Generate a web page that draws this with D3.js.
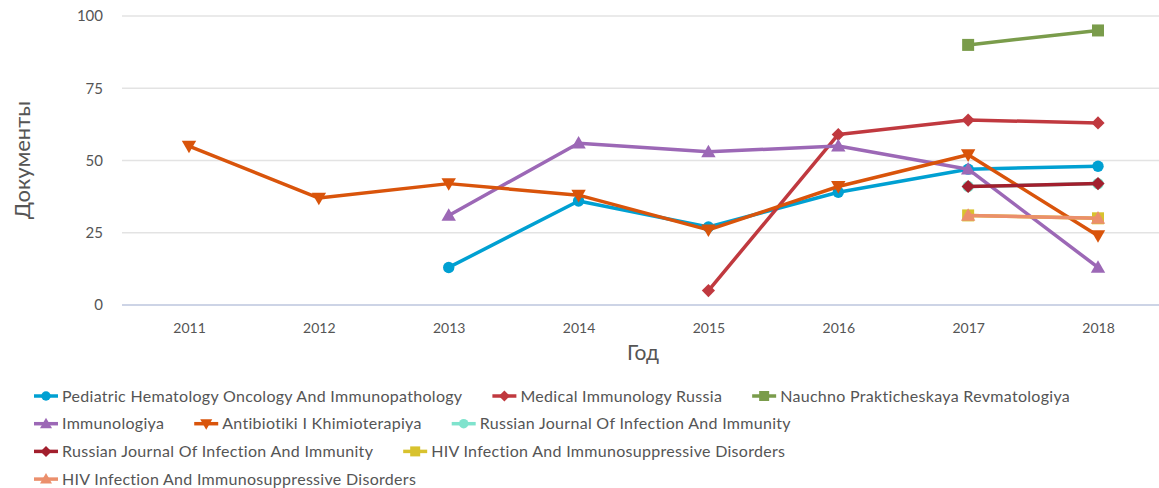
<!DOCTYPE html>
<html>
<head>
<meta charset="utf-8">
<script src="https://cdn.jsdelivr.net/npm/d3@7"></script>
<style>
  body { margin: 0; background: #fff; }
  svg text { font-family: Lato, "Open Sans", sans-serif; }
</style>
</head>
<body>
<div id="chart"></div>
<script>
// data
const years = ['2011', '2012', '2013', '2014', '2015', '2016', '2017', '2018'];
const yTicks = [0, 25, 50, 75, 100];

const seriesNames = [
  'Pediatric Hematology Oncology And Immunopathology',
  'Medical Immunology Russia',
  'Nauchno Prakticheskaya Revmatologiya',
  'Immunologiya',
  'Antibiotiki I Khimioterapiya',
  'Russian Journal Of Infection And Immunity',
  'Russian Journal Of Infection And Immunity',
  'HIV Infection And Immunosuppressive Disorders',
  'HIV Infection And Immunosuppressive Disorders'
];
const seriesColors = ['#00a0d2', '#c0393f', '#7a9c4b', '#9c68b6', '#d9540b', '#7fe3cd', '#a21f2d', '#d8c22e', '#eb8f6c'];
const seriesShapes = ['circle', 'diamond', 'square', 'triUp', 'triDown', 'circle', 'diamond', 'square', 'triUp'];

// null = no data for that year
const pediatric    = [null, null, 13, 36, 27, 39, 47, 48];
const medImmun     = [null, null, null, null, 5, 59, 64, 63];
const nauchno      = [null, null, null, null, null, null, 90, 95];
const immunologiya = [null, null, 31, 56, 53, 55, 47, 13];
const antibiotiki  = [55, 37, 42, 38, 26, 41, 52, 24];
const rusJournalA  = [null, null, null, null, null, null, 41, 42];
const rusJournalB  = [null, null, null, null, null, null, 41, 42];
const hivA         = [null, null, null, null, null, null, 31, 30];
const hivB         = [null, null, null, null, null, null, 31, 30];
const seriesValues = [pediatric, medImmun, nauchno, immunologiya, antibiotiki, rusJournalA, rusJournalB, hivA, hivB];

const W = 1159, H = 488;
const svg = d3.select('#chart').append('svg').attr('width', W).attr('height', H);

const x = d3.scalePoint().domain(years).range([189, 1098]);
const y = d3.scaleLinear().domain([0, 100]).range([305, 16]);
const plotLeft = 122, plotRight = 1159;

// gridlines
svg.append('g').selectAll('line')
  .data(yTicks)
  .enter().append('line')
  .attr('x1', plotLeft).attr('x2', plotRight)
  .attr('y1', d => y(d)).attr('y2', d => y(d))
  .attr('stroke', d => d === 0 ? '#cdd4e6' : '#e3e3e3')
  .attr('stroke-width', d => d === 0 ? 2 : 1.5);

// y tick labels
svg.append('g').selectAll('text')
  .data(yTicks)
  .enter().append('text')
  .attr('x', 103).attr('y', d => y(d)).attr('dy', '0.35em')
  .attr('text-anchor', 'end')
  .attr('font-size', 15).attr('fill', '#555')
  .text(d => d);

// x tick labels
const xAxis = svg.append('g').attr('transform', 'translate(0,' + 305 + ')')
  .call(d3.axisBottom(x).tickSize(0).tickPadding(18));
xAxis.select('.domain').remove();
xAxis.selectAll('text')
  .attr('font-size', 14).attr('fill', '#555')
  .attr('font-family', 'Lato, sans-serif');

// axis titles
svg.append('text')
  .attr('x', 643).attr('y', 360)
  .attr('text-anchor', 'middle')
  .attr('font-size', 21).attr('fill', '#555')
  .text('Год');
svg.append('text')
  .attr('transform', 'translate(30,160) rotate(-90)')
  .attr('text-anchor', 'middle')
  .attr('font-size', 22).attr('fill', '#555')
  .text('Документы');

function marker(sel, shape, color, s) {
  if (shape === 'circle') {
    sel.append('circle').attr('r', s * 0.95).attr('fill', color);
  } else if (shape === 'square') {
    sel.append('rect').attr('x', -s).attr('y', -s).attr('width', 2 * s).attr('height', 2 * s).attr('fill', color);
  } else if (shape === 'diamond') {
    sel.append('path').attr('d', `M0,${-s * 1.1}L${s * 1.1},0L0,${s * 1.1}L${-s * 1.1},0Z`).attr('fill', color);
  } else if (shape === 'triUp') {
    sel.append('path').attr('d', `M0,${-s * 1.2}L${s * 1.2},${s * 0.9}L${-s * 1.2},${s * 0.9}Z`).attr('fill', color);
  } else if (shape === 'triDown') {
    sel.append('path').attr('d', `M0,${s * 1.2}L${s * 1.2},${-s * 0.9}L${-s * 1.2},${-s * 0.9}Z`).attr('fill', color);
  }
}

const line = d3.line()
  .defined(d => d.v !== null)
  .x(d => x(d.year))
  .y(d => y(d.v));

// draw series (teal russian journal first so the dark red one covers it)
const drawOrder = [5, 0, 1, 2, 3, 4, 6, 7, 8];
drawOrder.forEach(i => {
  const pts = years.map((yr, j) => ({ year: yr, v: seriesValues[i][j] }));
  const g = svg.append('g');
  g.append('path')
    .datum(pts)
    .attr('d', line)
    .attr('fill', 'none')
    .attr('stroke', seriesColors[i])
    .attr('stroke-width', 3.5)
    .attr('stroke-linejoin', 'round');
  g.selectAll('g.pt')
    .data(pts.filter(d => d.v !== null))
    .enter().append('g')
    .attr('class', 'pt')
    .attr('transform', d => `translate(${x(d.year)},${y(d.v)})`)
    .each(function () { marker(d3.select(this), seriesShapes[i], seriesColors[i], 6); });
});

// legend, flowing with wrap
const legend = svg.append('g');
let lx = 34, ly = 396;
const rowH = 27.7, maxX = 1120;
seriesNames.forEach((name, i) => {
  const item = legend.append('g');
  const t = item.append('text')
    .attr('x', 28).attr('dy', '0.35em')
    .attr('font-size', 16).attr('fill', '#555')
    .attr('letter-spacing', 0.3)
    .attr('font-family', '"Open Sans", sans-serif')
    .text(name);
  const w = 28 + t.node().getComputedTextLength();
  if (lx + w > maxX) { lx = 34; ly += rowH; }
  item.attr('transform', `translate(${lx},${ly})`);
  item.append('line').attr('x1', 0).attr('x2', 24).attr('y1', 0).attr('y2', 0)
    .attr('stroke', seriesColors[i]).attr('stroke-width', 3.5);
  const m = item.append('g').attr('transform', 'translate(12,0)');
  marker(m, seriesShapes[i], seriesColors[i], 5);
  lx += w + 30;
});
</script>
</body>
</html>
